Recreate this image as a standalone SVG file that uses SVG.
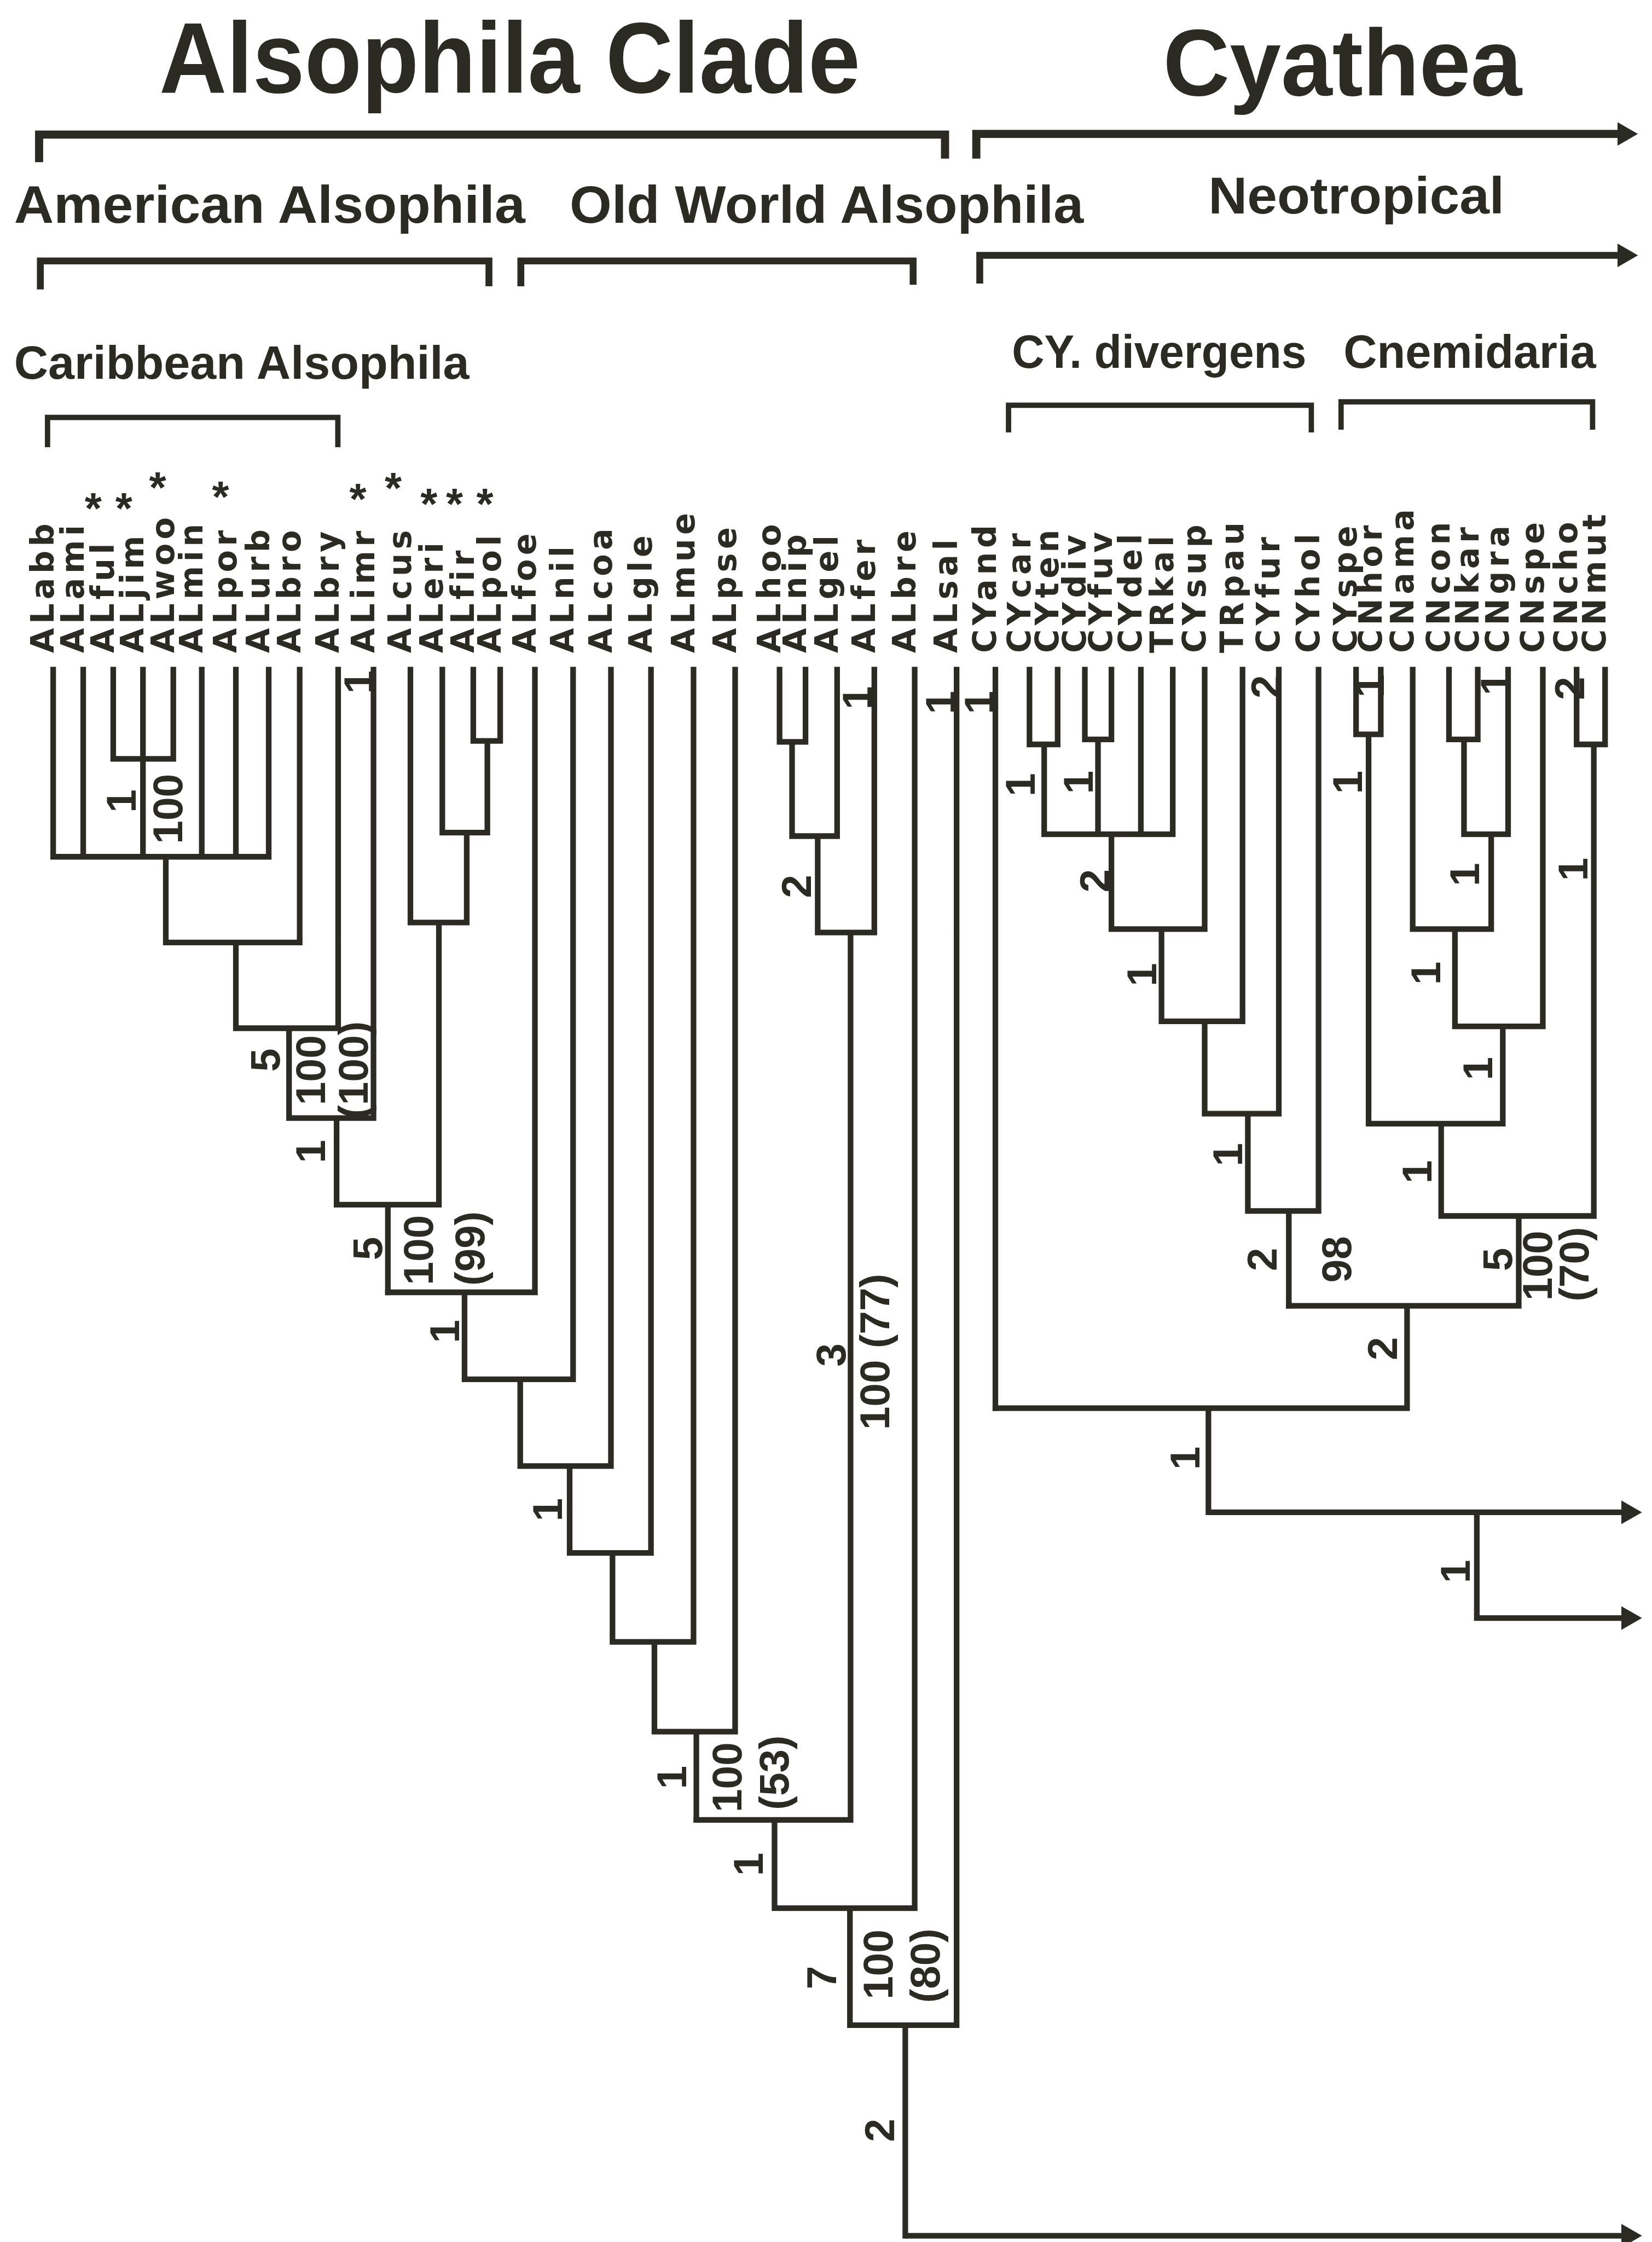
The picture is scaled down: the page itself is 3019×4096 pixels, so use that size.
<svg xmlns="http://www.w3.org/2000/svg" width="3019" height="4096" viewBox="0 0 3019 4096">
<style>
.ln{fill:none;stroke:#2b2b24;stroke-width:18;stroke-linecap:square;stroke-linejoin:miter}
.ar{fill:none;stroke:#2b2b24;stroke-linecap:butt;stroke-linejoin:miter}
.br{fill:none;stroke:#2b2b24;stroke-linecap:butt;stroke-linejoin:miter}
.hd{font-family:"Liberation Sans",Arial,sans-serif;font-weight:bold;fill:#2b2b24}
.tx{font-family:"DejaVu Sans",sans-serif;font-weight:bold;font-size:103px;letter-spacing:13px;fill:#2b2b24}
.num{font-family:"Liberation Sans",Arial,sans-serif;font-weight:bold;font-size:134px;fill:#2b2b24;text-anchor:middle}
.ast{font-family:"Liberation Sans",Arial,sans-serif;font-weight:bold;font-size:140px;fill:#2b2b24;text-anchor:middle}
</style>
<defs>
<marker id="arr" viewBox="0 0 66 76" refX="24" refY="38" markerWidth="66" markerHeight="76" markerUnits="userSpaceOnUse" orient="auto">
<path d="M0,0 L66,38 L0,76 Z" fill="#2b2b24"/>
</marker>
</defs>
<rect width="3019" height="4096" fill="#ffffff"/>
<g transform="scale(0.571672)">
<g id="headers">
<g id="h-alsophila"><text class="hd" x="509" y="296" font-size="322" textLength="2241" lengthAdjust="spacingAndGlyphs">Alsophila Clade</text></g>
<g id="h-cyathea"><text class="hd" x="3718" y="305" font-size="303" textLength="1147" lengthAdjust="spacingAndGlyphs">Cyathea</text></g>
<g id="h-american"><text class="hd" x="45" y="712" font-size="168" textLength="1634" lengthAdjust="spacingAndGlyphs">American Alsophila</text></g>
<g id="h-oldworld"><text class="hd" x="1821" y="712" font-size="168" textLength="1643" lengthAdjust="spacingAndGlyphs">Old World Alsophila</text></g>
<g id="h-neotropical"><text class="hd" x="3863" y="682" font-size="165" textLength="946" lengthAdjust="spacingAndGlyphs">Neotropical</text></g>
<g id="h-caribbean"><text class="hd" x="45" y="1211" font-size="148" textLength="1455" lengthAdjust="spacingAndGlyphs">Caribbean Alsophila</text></g>
<g id="h-divergens"><text class="hd" x="3235" y="1176" font-size="148" textLength="941" lengthAdjust="spacingAndGlyphs">CY. divergens</text></g>
<g id="h-cnemidaria"><text class="hd" x="4295" y="1176" font-size="148" textLength="807" lengthAdjust="spacingAndGlyphs">Cnemidaria</text></g>
</g>
<g id="brackets">
<path class="br" stroke-width="26" d="M125,518 V430 H3021 V507"/>
<path class="ar" stroke-width="26" d="M3121,507 V428 H5194" marker-end="url(#arr)"/>
<path class="br" stroke-width="22" d="M129,925 V834 H1563 V915"/>
<path class="br" stroke-width="22" d="M1665,915 V834 H2919 V910"/>
<path class="ar" stroke-width="22" d="M3132,906 V816 H5194" marker-end="url(#arr)"/>
<path class="br" stroke-width="17" d="M152,1429 V1334 H1080 V1429"/>
<path class="br" stroke-width="17" d="M3224,1382 V1295 H4192 V1382"/>
<path class="br" stroke-width="17" d="M4287,1373 V1284 H5091 V1373"/>
</g>
<g id="taxa">
<g id="n-ALabb"><text class="tx" transform="translate(172,2087) rotate(-90)">ALabb</text></g>
<g id="n-ALami"><text class="tx" transform="translate(268,2087) rotate(-90)">ALami</text></g>
<g id="n-ALful"><text class="tx" transform="translate(364,2087) rotate(-90)">ALful</text></g>
<g id="n-ALjim"><text class="tx" transform="translate(459,2087) rotate(-90)">ALjim</text></g>
<g id="n-ALwoo"><text class="tx" transform="translate(556,2087) rotate(-90)">ALwoo</text></g>
<g id="n-ALmin"><text class="tx" transform="translate(647,2087) rotate(-90)">ALmin</text></g>
<g id="n-ALpor"><text class="tx" transform="translate(756,2087) rotate(-90)">ALpor</text></g>
<g id="n-ALurb"><text class="tx" transform="translate(861,2087) rotate(-90)">ALurb</text></g>
<g id="n-ALbro"><text class="tx" transform="translate(960,2087) rotate(-90)">ALbro</text></g>
<g id="n-ALbry"><text class="tx" transform="translate(1083,2087) rotate(-90)">ALbry</text></g>
<g id="n-ALimr"><text class="tx" transform="translate(1196,2087) rotate(-90)">ALimr</text></g>
<g id="n-ALcus"><text class="tx" transform="translate(1314,2087) rotate(-90)">ALcus</text></g>
<g id="n-ALeri"><text class="tx" transform="translate(1416,2087) rotate(-90)">ALeri</text></g>
<g id="n-ALfir"><text class="tx" transform="translate(1515,2087) rotate(-90)">ALfir</text></g>
<g id="n-ALpol"><text class="tx" transform="translate(1601,2087) rotate(-90)">ALpol</text></g>
<g id="n-ALfoe"><text class="tx" transform="translate(1712,2087) rotate(-90)">ALfoe</text></g>
<g id="n-ALnil"><text class="tx" transform="translate(1834,2087) rotate(-90)">ALnil</text></g>
<g id="n-ALcoa"><text class="tx" transform="translate(1955,2087) rotate(-90)">ALcoa</text></g>
<g id="n-ALgle"><text class="tx" transform="translate(2083,2087) rotate(-90)">ALgle</text></g>
<g id="n-ALmue"><text class="tx" transform="translate(2219,2087) rotate(-90)">ALmue</text></g>
<g id="n-ALpse"><text class="tx" transform="translate(2352,2087) rotate(-90)">ALpse</text></g>
<g id="n-ALhoo"><text class="tx" transform="translate(2494,2087) rotate(-90)">ALhoo</text></g>
<g id="n-ALnip"><text class="tx" transform="translate(2577,2087) rotate(-90)">ALnip</text></g>
<g id="n-ALgel"><text class="tx" transform="translate(2678,2087) rotate(-90)">ALgel</text></g>
<g id="n-ALfer"><text class="tx" transform="translate(2797,2087) rotate(-90)">ALfer</text></g>
<g id="n-ALbre"><text class="tx" transform="translate(2926,2087) rotate(-90)">ALbre</text></g>
<g id="n-ALsal"><text class="tx" transform="translate(3060,2087) rotate(-90)">ALsal</text></g>
<g id="n-CYand"><text class="tx" transform="translate(3184,2087) rotate(-90)">CYand</text></g>
<g id="n-CYcar"><text class="tx" transform="translate(3293,2087) rotate(-90)">CYcar</text></g>
<g id="n-CYten"><text class="tx" transform="translate(3383,2087) rotate(-90)">CYten</text></g>
<g id="n-CYdiv"><text class="tx" transform="translate(3470,2087) rotate(-90)">CYdiv</text></g>
<g id="n-CYfuv"><text class="tx" transform="translate(3555,2087) rotate(-90)">CYfuv</text></g>
<g id="n-CYdel"><text class="tx" transform="translate(3649,2087) rotate(-90)">CYdel</text></g>
<g id="n-TRkal"><text class="tx" transform="translate(3751,2087) rotate(-90)">TRkal</text></g>
<g id="n-CYsup"><text class="tx" transform="translate(3853,2087) rotate(-90)">CYsup</text></g>
<g id="n-TRpau"><text class="tx" transform="translate(3974,2087) rotate(-90)">TRpau</text></g>
<g id="n-CYfur"><text class="tx" transform="translate(4090,2087) rotate(-90)">CYfur</text></g>
<g id="n-CYhol"><text class="tx" transform="translate(4217,2087) rotate(-90)">CYhol</text></g>
<g id="n-CYspe"><text class="tx" transform="translate(4337,2087) rotate(-90)">CYspe</text></g>
<g id="n-CNhor"><text class="tx" transform="translate(4416,2087) rotate(-90)">CNhor</text></g>
<g id="n-CNama"><text class="tx" transform="translate(4518,2087) rotate(-90)">CNama</text></g>
<g id="n-CNcon"><text class="tx" transform="translate(4634,2087) rotate(-90)">CNcon</text></g>
<g id="n-CNkar"><text class="tx" transform="translate(4726,2087) rotate(-90)">CNkar</text></g>
<g id="n-CNgra"><text class="tx" transform="translate(4823,2087) rotate(-90)">CNgra</text></g>
<g id="n-CNspe"><text class="tx" transform="translate(4934,2087) rotate(-90)">CNspe</text></g>
<g id="n-CNcho"><text class="tx" transform="translate(5042,2087) rotate(-90)">CNcho</text></g>
<g id="n-CNmut"><text class="tx" transform="translate(5133,2087) rotate(-90)">CNmut</text></g>
</g>
<g id="asterisks">
<text class="ast" x="298" y="1673">*</text>
<text class="ast" x="396" y="1673">*</text>
<text class="ast" x="504" y="1605">*</text>
<text class="ast" x="705" y="1636">*</text>
<text class="ast" x="1144" y="1642">*</text>
<text class="ast" x="1257" y="1607">*</text>
<text class="ast" x="1371" y="1659">*</text>
<text class="ast" x="1453" y="1659">*</text>
<text class="ast" x="1550" y="1659">*</text>
</g>
<g id="connectors">
<path class="ln" d="M170,2140V2738 M266,2140V2738 M362,2140V2425 M457,2140V2738 M554,2140V2425 M362,2425H554 M645,2140V2738 M754,2140V2738 M859,2140V2738 M170,2738H859 M530,2738V3012 M958,2140V3012 M530,3012H958 M754,3012V3286 M1081,2140V3286 M754,3286H1081 M924,3286V3573 M1194,2140V3573 M924,3573H1194 M1076,3573V3850"/>
<path class="ln" d="M1513,2140V2368 M1599,2140V2368 M1513,2368H1599 M1558,2368V2661 M1414,2140V2661 M1414,2661H1558 M1492,2661V2948 M1312,2140V2948 M1312,2948H1492 M1403,2948V3850 M1076,3850H1403 M1240,3850V4130"/>
<path class="ln" d="M1710,2140V4130 M1240,4130H1710 M1485,4130V4408 M1832,2140V4408 M1485,4408H1832 M1663,4408V4685 M1953,2140V4685 M1663,4685H1953 M1821,4685V4963 M2081,2140V4963 M1821,4963H2081 M1958,4963V5247 M2217,2140V5247 M1958,5247H2217 M2092,5247V5534 M2350,2140V5534 M2092,5534H2350 M2226,5534V5816"/>
<path class="ln" d="M2492,2140V2371 M2575,2140V2371 M2492,2371H2575 M2532,2371V2672 M2676,2140V2672 M2532,2672H2676 M2614,2672V2980 M2795,2140V2980 M2614,2980H2795 M2719,2980V5816 M2226,5816H2719 M2476,5816V6098 M2924,2140V6098 M2476,6098H2924 M2717,6098V6472 M3058,2140V6472 M2717,6472H3058 M2894,6472V7145"/>
<path class="ar" stroke-width="18" d="M2894,7145H5207" marker-end="url(#arr)"/>
<path class="ln" d="M3182,2140V4500 M3291,2140V2379 M3381,2140V2379 M3291,2379H3381 M3338,2379V2666 M3468,2140V2363 M3553,2140V2363 M3468,2363H3553 M3510,2363V2666 M3647,2140V2666 M3749,2140V2666 M3338,2666H3749 M3553,2666V2969 M3851,2140V2969 M3553,2969H3851 M3713,2969V3264 M3972,2140V3264 M3713,3264H3972 M3851,3264V3559 M4088,2140V3559 M3851,3559H4088 M3989,3559V3870 M4215,2140V3870 M3989,3870H4215 M4120,3870V4173"/>
<path class="ln" d="M4335,2140V2347 M4414,2140V2347 M4335,2347H4414 M4375,2347V3591 M4632,2140V2363 M4724,2140V2363 M4632,2363H4724 M4680,2363V2666 M4821,2140V2666 M4680,2666H4821 M4767,2666V2969 M4516,2140V2969 M4516,2969H4767 M4651,2969V3280 M4932,2140V3280 M4651,3280H4932 M4804,3280V3591 M4375,3591H4804 M4607,3591V3886 M5040,2140V2379 M5131,2140V2379 M5040,2379H5131 M5095,2379V3886 M4607,3886H5095 M4855,3886V4173 M4120,4173H4855 M4498,4173V4500 M3182,4500H4498 M3863,4500V4833"/>
<path class="ar" stroke-width="18" d="M3863,4833H5207" marker-end="url(#arr)"/>
<path class="ar" stroke-width="18" d="M4721,4833V5171H5207" marker-end="url(#arr)"/>
</g>
<g id="branch-labels">
<text class="num" dy="0.36em" transform="translate(1145,2180) rotate(-90)">1</text>
<text class="num" dy="0.36em" transform="translate(385,2560) rotate(-90)">1</text>
<text class="num" dy="0.36em" transform="translate(535,2585) rotate(-90)">100</text>
<text class="num" dy="0.36em" transform="translate(845,3388) rotate(-90)">5</text>
<text class="num" dy="0.36em" transform="translate(990,3420) rotate(-90)">100</text>
<text class="num" dy="0.36em" transform="translate(1128,3420) rotate(-90)">(100)</text>
<text class="num" dy="0.36em" transform="translate(990,3680) rotate(-90)">1</text>
<text class="num" dy="0.36em" transform="translate(1172,3990) rotate(-90)">5</text>
<text class="num" dy="0.36em" transform="translate(1335,3995) rotate(-90)">100</text>
<text class="num" dy="0.36em" transform="translate(1500,3990) rotate(-90)">(99)</text>
<text class="num" dy="0.36em" transform="translate(1420,4255) rotate(-90)">1</text>
<text class="num" dy="0.36em" transform="translate(1748,4825) rotate(-90)">1</text>
<text class="num" dy="0.36em" transform="translate(2145,5680) rotate(-90)">1</text>
<text class="num" dy="0.36em" transform="translate(2322,5680) rotate(-90)">100</text>
<text class="num" dy="0.36em" transform="translate(2472,5665) rotate(-90)">(53)</text>
<text class="num" dy="0.36em" transform="translate(2545,2833) rotate(-90)">2</text>
<text class="num" dy="0.36em" transform="translate(2738,2230) rotate(-90)">1</text>
<text class="num" dy="0.36em" transform="translate(2655,4330) rotate(-90)">3</text>
<text class="num" dy="0.36em" transform="translate(2795,4320) rotate(-90)">100 (77)</text>
<text class="num" dy="0.36em" transform="translate(2390,5958) rotate(-90)">1</text>
<text class="num" dy="0.36em" transform="translate(2625,6320) rotate(-90)">7</text>
<text class="num" dy="0.36em" transform="translate(2805,6278) rotate(-90)">100</text>
<text class="num" dy="0.36em" transform="translate(2955,6282) rotate(-90)">(80)</text>
<text class="num" dy="0.36em" transform="translate(2810,6808) rotate(-90)">2</text>
<text class="num" dy="0.36em" transform="translate(3005,2245) rotate(-90)">1</text>
<text class="num" dy="0.36em" transform="translate(3128,2245) rotate(-90)">1</text>
<text class="num" dy="0.36em" transform="translate(3260,2508) rotate(-90)">1</text>
<text class="num" dy="0.36em" transform="translate(3445,2500) rotate(-90)">1</text>
<text class="num" dy="0.36em" transform="translate(3497,2815) rotate(-90)">2</text>
<text class="num" dy="0.36em" transform="translate(3648,3115) rotate(-90)">1</text>
<text class="num" dy="0.36em" transform="translate(4045,2195) rotate(-90)">2</text>
<text class="num" dy="0.36em" transform="translate(3922,3690) rotate(-90)">1</text>
<text class="num" dy="0.36em" transform="translate(4032,4025) rotate(-90)">2</text>
<text class="num" dy="0.36em" transform="translate(4270,4025) rotate(-90)">98</text>
<text class="num" dy="0.36em" transform="translate(4418,4310) rotate(-90)">2</text>
<text class="num" dy="0.36em" transform="translate(4305,2500) rotate(-90)">1</text>
<text class="num" dy="0.36em" transform="translate(4376,2192) rotate(-90)">1</text>
<text class="num" dy="0.36em" transform="translate(4778,2185) rotate(-90)">1</text>
<text class="num" dy="0.36em" transform="translate(4680,2795) rotate(-90)">1</text>
<text class="num" dy="0.36em" transform="translate(4556,3110) rotate(-90)">1</text>
<text class="num" dy="0.36em" transform="translate(4722,3415) rotate(-90)">1</text>
<text class="num" dy="0.36em" transform="translate(4528,3745) rotate(-90)">1</text>
<text class="num" dy="0.36em" transform="translate(5015,2200) rotate(-90)">2</text>
<text class="num" dy="0.36em" transform="translate(5027,2778) rotate(-90)">1</text>
<text class="num" dy="0.36em" transform="translate(4785,4025) rotate(-90)">5</text>
<text class="num" dy="0.36em" transform="translate(4912,4045) rotate(-90)">100</text>
<text class="num" dy="0.36em" transform="translate(5030,4040) rotate(-90)">(70)</text>
<text class="num" dy="0.36em" transform="translate(3787,4660) rotate(-90)">1</text>
<text class="num" dy="0.36em" transform="translate(4650,5022) rotate(-90)">1</text>
</g>
</g>
</svg>
